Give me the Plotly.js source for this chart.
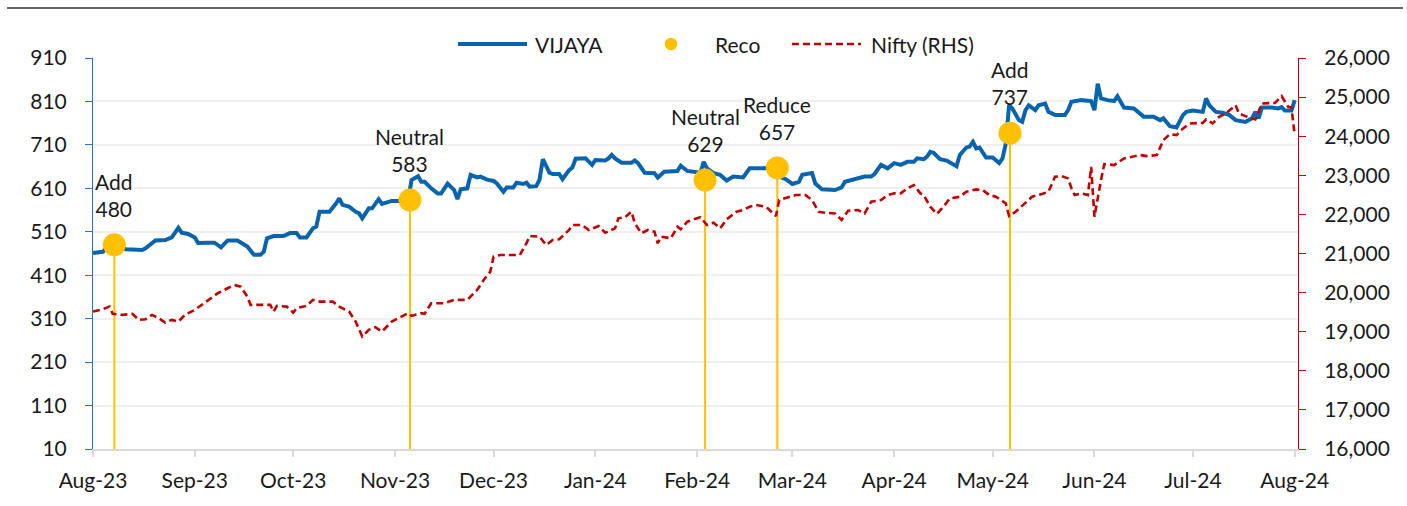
<!DOCTYPE html>
<html>
<head>
<meta charset="utf-8">
<script src="https://cdn.plot.ly/plotly-3.0.1.min.js"></script>
<style>html,body{margin:0;padding:0;background:#fff;}#chart{width:1407px;height:506px;}</style>
</head>
<body>
<div id="chart"></div>
<script>
// ---- Data ----
const vijayaDates = ["2023-08-01","2023-08-04","2023-08-05","2023-08-07","2023-08-09","2023-08-11","2023-08-16","2023-08-17","2023-08-20","2023-08-23","2023-08-25","2023-08-27","2023-08-28","2023-08-30","2023-09-01","2023-09-02","2023-09-05","2023-09-07","2023-09-09","2023-09-11","2023-09-14","2023-09-16","2023-09-17","2023-09-19","2023-09-21","2023-09-22","2023-09-23","2023-09-25","2023-09-28","2023-09-30","2023-10-02","2023-10-03","2023-10-05","2023-10-07","2023-10-08","2023-10-09","2023-10-12","2023-10-14","2023-10-15","2023-10-16","2023-10-18","2023-10-20","2023-10-21","2023-10-22","2023-10-24","2023-10-25","2023-10-27","2023-10-28","2023-10-31","2023-11-03","2023-11-05","2023-11-06","2023-11-07","2023-11-08","2023-11-09","2023-11-10","2023-11-12","2023-11-14","2023-11-15","2023-11-17","2023-11-19","2023-11-20","2023-11-21","2023-11-23","2023-11-24","2023-11-26","2023-11-27","2023-11-29","2023-12-01","2023-12-02","2023-12-04","2023-12-05","2023-12-07","2023-12-08","2023-12-10","2023-12-11","2023-12-12","2023-12-14","2023-12-15","2023-12-16","2023-12-18","2023-12-19","2023-12-21","2023-12-22","2023-12-24","2023-12-25","2023-12-26","2023-12-29","2023-12-31","2024-01-01","2024-01-04","2024-01-05","2024-01-06","2024-01-07","2024-01-09","2024-01-12","2024-01-13","2024-01-14","2024-01-16","2024-01-19","2024-01-20","2024-01-22","2024-01-26","2024-01-27","2024-01-29","2024-01-31","2024-02-02","2024-02-03","2024-02-04","2024-02-06","2024-02-08","2024-02-10","2024-02-12","2024-02-15","2024-02-17","2024-02-21","2024-02-25","2024-02-26","2024-02-28","2024-03-01","2024-03-03","2024-03-04","2024-03-07","2024-03-08","2024-03-10","2024-03-14","2024-03-16","2024-03-17","2024-03-20","2024-03-23","2024-03-25","2024-03-26","2024-03-28","2024-03-30","2024-04-01","2024-04-03","2024-04-05","2024-04-07","2024-04-08","2024-04-10","2024-04-11","2024-04-12","2024-04-13","2024-04-15","2024-04-17","2024-04-20","2024-04-21","2024-04-23","2024-04-24","2024-04-25","2024-04-26","2024-04-27","2024-04-29","2024-05-01","2024-05-03","2024-05-04","2024-05-05","2024-05-06","2024-05-07","2024-05-09","2024-05-10","2024-05-11","2024-05-12","2024-05-14","2024-05-15","2024-05-17","2024-05-18","2024-05-20","2024-05-23","2024-05-24","2024-05-25","2024-05-28","2024-05-31","2024-06-01","2024-06-02","2024-06-03","2024-06-05","2024-06-07","2024-06-08","2024-06-10","2024-06-13","2024-06-16","2024-06-19","2024-06-21","2024-06-22","2024-06-24","2024-06-26","2024-06-28","2024-06-29","2024-07-01","2024-07-04","2024-07-05","2024-07-06","2024-07-08","2024-07-10","2024-07-12","2024-07-14","2024-07-17","2024-07-19","2024-07-20","2024-07-21","2024-07-22","2024-07-25","2024-07-27","2024-07-28","2024-07-29","2024-07-31","2024-08-01"];
const vijayaValues = [461,464,472,476,476,470,468,472,490,491,497,519,508,505,497,484,485,485,474,490,490,480,476,457,457,464,495,500,500,507,507,497,497,518,522,556,556,575,587,572,568,556,553,541,564,564,585,574,581,581,583,629,633,638,625,625,610,598,598,621,606,585,608,610,641,635,637,630,627,621,602,612,612,623,620,623,614,615,630,677,646,643,643,631,652,658,678,679,664,675,674,679,687,679,669,669,674,668,646,645,635,648,650,662,650,648,646,671,656,645,641,628,637,635,656,656,657,637,631,620,625,641,645,621,608,606,612,625,631,637,637,643,664,656,668,664,671,671,679,677,683,694,692,677,674,661,687,704,706,717,702,704,681,681,668,679,713,801,794,767,763,790,801,790,801,805,786,779,779,790,809,813,811,790,851,817,813,811,822,796,794,775,775,767,771,753,750,779,786,789,786,817,801,786,784,779,767,763,771,786,771,796,796,794,797,789,789,813];

const niftyDates = ["2023-08-01","2023-08-04","2023-08-06","2023-08-07","2023-08-10","2023-08-13","2023-08-15","2023-08-17","2023-08-19","2023-08-21","2023-08-23","2023-08-25","2023-08-27","2023-08-29","2023-09-01","2023-09-03","2023-09-05","2023-09-08","2023-09-11","2023-09-13","2023-09-15","2023-09-17","2023-09-18","2023-09-22","2023-09-24","2023-09-25","2023-09-26","2023-09-29","2023-10-01","2023-10-02","2023-10-05","2023-10-07","2023-10-09","2023-10-13","2023-10-15","2023-10-18","2023-10-20","2023-10-22","2023-10-24","2023-10-26","2023-10-28","2023-10-31","2023-11-03","2023-11-05","2023-11-06","2023-11-09","2023-11-10","2023-11-12","2023-11-16","2023-11-19","2023-11-23","2023-11-26","2023-11-28","2023-11-30","2023-12-01","2023-12-03","2023-12-06","2023-12-09","2023-12-11","2023-12-12","2023-12-15","2023-12-17","2023-12-19","2023-12-21","2023-12-24","2023-12-25","2023-12-28","2023-12-30","2024-01-02","2024-01-04","2024-01-07","2024-01-08","2024-01-10","2024-01-12","2024-01-13","2024-01-15","2024-01-17","2024-01-19","2024-01-20","2024-01-21","2024-01-24","2024-01-26","2024-01-27","2024-01-29","2024-01-31","2024-02-02","2024-02-04","2024-02-06","2024-02-08","2024-02-10","2024-02-13","2024-02-15","2024-02-17","2024-02-19","2024-02-22","2024-02-23","2024-02-25","2024-02-26","2024-02-29","2024-03-02","2024-03-05","2024-03-07","2024-03-09","2024-03-11","2024-03-14","2024-03-16","2024-03-18","2024-03-21","2024-03-23","2024-03-25","2024-03-28","2024-03-30","2024-04-01","2024-04-03","2024-04-05","2024-04-07","2024-04-09","2024-04-10","2024-04-12","2024-04-14","2024-04-16","2024-04-18","2024-04-21","2024-04-23","2024-04-26","2024-04-28","2024-04-30","2024-05-02","2024-05-05","2024-05-06","2024-05-08","2024-05-10","2024-05-13","2024-05-16","2024-05-18","2024-05-20","2024-05-22","2024-05-24","2024-05-25","2024-05-26","2024-05-28","2024-05-30","2024-05-31","2024-06-01","2024-06-02","2024-06-03","2024-06-04","2024-06-07","2024-06-10","2024-06-12","2024-06-15","2024-06-17","2024-06-20","2024-06-22","2024-06-24","2024-06-26","2024-06-28","2024-06-30","2024-07-04","2024-07-05","2024-07-07","2024-07-09","2024-07-11","2024-07-14","2024-07-15","2024-07-17","2024-07-20","2024-07-22","2024-07-26","2024-07-28","2024-07-30","2024-07-31","2024-08-01"];
const niftyValues = [19514,19575,19642,19456,19430,19456,19302,19320,19430,19346,19233,19302,19259,19430,19558,19685,19813,19984,20112,20196,20153,19897,19685,19685,19685,19514,19660,19642,19489,19601,19660,19813,19770,19770,19642,19514,19259,18876,19047,19116,19004,19259,19387,19473,19404,19473,19456,19729,19729,19813,19813,20069,20324,20536,20919,20962,20962,20962,21261,21448,21430,21218,21346,21364,21601,21729,21729,21601,21703,21532,21644,21900,21925,22068,21772,21517,21601,21558,21261,21430,21389,21686,21619,21813,21874,21925,21729,21787,21644,21874,22068,22112,22196,22239,22196,22112,21958,22367,22451,22495,22495,22367,22068,22043,22025,21856,22094,22112,22025,22324,22367,22495,22538,22538,22666,22750,22538,22495,22196,22010,22196,22410,22451,22580,22640,22622,22495,22451,22283,21958,22068,22214,22451,22520,22580,22963,22980,22921,22666,22495,22538,22495,23218,21941,22451,22878,23287,23262,23432,23473,23517,23491,23517,23900,24053,24027,24198,24326,24341,24428,24326,24495,24581,24793,24581,24513,24428,24837,24852,25024,24750,24734,24027];

const recoDates = ["2023-08-07 12:00","2023-11-05 13:00","2024-02-03 10:00","2024-02-25 10:00","2024-05-06 07:00"];
const recoLabels = ["Add","Neutral","Neutral","Reduce","Add"];
const recoValues = [480,583,629,657,737];

const leftTicks = [10,110,210,310,410,510,610,710,810,910];
const rightTicks = [16000,17000,18000,19000,20000,21000,22000,23000,24000,25000,26000];
const legendNames = ["VIJAYA","Reco","Nifty (RHS)"];

// ---- Styles ----
const BLUE = '#0a64ad', RED = '#c00000', GOLD = '#ffc000', TXT = '#1a1a1a';
const FONT = 'Lato, "Open Sans", sans-serif';
const yBottom = leftTicks[0];

// drop lines from reco markers to the axis
const dropX = [], dropY = [];
recoDates.forEach((d, i) => { dropX.push(d, d, null); dropY.push(yBottom, recoValues[i], null); });

const traces = [
  {x: vijayaDates, y: vijayaValues, type: 'scatter', mode: 'lines', name: legendNames[0],
   line: {color: BLUE, width: 4, shape: 'linear'}, yaxis: 'y', hoverinfo: 'skip'},
  {x: dropX, y: dropY, type: 'scatter', mode: 'lines', line: {color: GOLD, width: 2},
   yaxis: 'y', showlegend: false, hoverinfo: 'skip'},
  {x: recoDates, y: recoValues, type: 'scatter', mode: 'markers', name: legendNames[1],
   marker: {color: GOLD, size: 23, line: {width: 0}}, yaxis: 'y', hoverinfo: 'skip'},
  {x: niftyDates, y: niftyValues, type: 'scatter', mode: 'lines', name: legendNames[2],
   line: {color: RED, width: 2.6, dash: '7px,4px'}, yaxis: 'y2', hoverinfo: 'skip'}
];

const annotations = recoDates.map((d, i) => ({
  x: d, y: recoValues[i], xref: 'x', yref: 'y', text: recoLabels[i] + '<br>' + recoValues[i],
  showarrow: false, yanchor: 'bottom', xanchor: 'center', yshift: 22, align: 'center',
  font: {family: FONT, size: 21, color: TXT}
}));

// custom legend (paper coordinates)
const legY = 1.0358;
annotations.push(
  {xref: 'paper', yref: 'paper', x: 0.3651, y: legY, text: legendNames[0], showarrow: false, xanchor: 'left', yanchor: 'middle', font: {family: FONT, size: 21, color: TXT}},
  {xref: 'paper', yref: 'paper', x: 0.5145, y: legY, text: legendNames[1], showarrow: false, xanchor: 'left', yanchor: 'middle', font: {family: FONT, size: 21, color: TXT}},
  {xref: 'paper', yref: 'paper', x: 0.6440, y: legY, text: legendNames[2], showarrow: false, xanchor: 'left', yanchor: 'middle', font: {family: FONT, size: 21, color: TXT}}
);

const shapes = [
  {type: 'line', xref: 'paper', yref: 'paper', x0: -0.0714, x1: 1.0871, y0: 1.1278, y1: 1.1278, line: {color: '#333333', width: 1.5}},
  {type: 'line', xref: 'paper', yref: 'paper', x0: 0.3029, x1: 0.3602, y0: legY, y1: legY, line: {color: BLUE, width: 4}},
  {type: 'circle', xref: 'paper', yref: 'paper', xsizemode: 'pixel', ysizemode: 'pixel', xanchor: 0.4797, yanchor: legY, x0: -6.3, x1: 6.3, y0: -6.3, y1: 6.3, fillcolor: GOLD, line: {width: 0}},
  {type: 'line', xref: 'paper', yref: 'paper', x0: 0.5801, x1: 0.6373, y0: legY, y1: legY, line: {color: RED, width: 2.6, dash: '7px,4px'}}
];

const layout = {
  width: 1407, height: 506,
  margin: {l: 93, r: 109, t: 58, b: 57, pad: 0},
  paper_bgcolor: '#ffffff', plot_bgcolor: '#ffffff',
  showlegend: false,
  font: {family: FONT, size: 21, color: TXT},
  xaxis: {
    type: 'date', range: ['2023-08-01', '2024-08-02'],
    tick0: '2023-08-01', dtick: 'M1', tickformat: '%b-%y',
    ticks: 'outside', ticklen: 6, tickwidth: 2, tickcolor: '#d9d9d9',
    showline: true, linecolor: '#d9d9d9', linewidth: 2,
    showgrid: false, zeroline: false, ticklabelstandoff: 6,
    tickfont: {family: FONT, size: 21, color: TXT}
  },
  yaxis: {
    range: [leftTicks[0], leftTicks[leftTicks.length - 1]],
    tickvals: leftTicks, ticktext: leftTicks.map(String),
    ticks: 'outside', ticklen: 7, tickwidth: 1, tickcolor: '#2e75b6',
    showline: true, linecolor: '#2e75b6', linewidth: 1,
    showgrid: true, gridcolor: '#efefef', gridwidth: 2, zeroline: false,
    ticklabelstandoff: 14,
    tickfont: {family: FONT, size: 21, color: TXT}
  },
  yaxis2: {
    overlaying: 'y', side: 'right',
    range: [rightTicks[0], rightTicks[rightTicks.length - 1]],
    tickvals: rightTicks, tickformat: ',d',
    ticks: 'outside', ticklen: 7, tickwidth: 1, tickcolor: '#c00000',
    showline: true, linecolor: '#c00000', linewidth: 1,
    showgrid: false, zeroline: false, ticklabelstandoff: 14,
    tickfont: {family: FONT, size: 21, color: TXT}
  },
  annotations: annotations,
  shapes: shapes
};

Plotly.newPlot('chart', traces, layout, {displayModeBar: false, staticPlot: true});
</script>
</body>
</html>
